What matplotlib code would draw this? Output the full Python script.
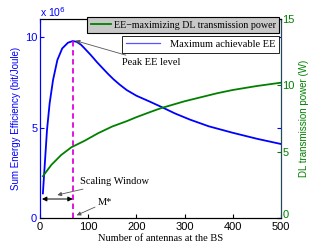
# EE vs number of BS antennas (plotyy-style)
import numpy as np
import matplotlib.pyplot as plt

# data
m_ee = [6, 10, 14.5, 20, 27, 36, 46, 58, 68, 76, 85, 93, 105, 118, 131, 141, 152, 165,
        180, 200, 228, 251, 280, 311, 350, 400, 450, 500]
ee = [1.36, 3.0, 4.86, 6.34, 7.62, 8.73, 9.37, 9.69, 9.78, 9.74, 9.58, 9.36, 9.02, 8.62,
      8.25, 7.97, 7.68, 7.38, 7.07, 6.76, 6.43, 6.15, 5.78, 5.44, 5.07, 4.71, 4.38, 4.09]

m_p = [6, 23.5, 44, 65, 93, 120, 150, 180, 200, 228, 251, 300, 367, 400, 450, 500]
power = [3.15, 4.0, 4.75, 5.33, 5.83, 6.38, 6.9, 7.3, 7.6, 7.98, 8.28, 8.8, 9.4, 9.65, 9.95, 10.2]

m_star = 68
peak_ee = 9.78

serif = 'Liberation Serif'
sans = 'Liberation Sans'
blue = '#0000ff'
green = '#008000'

fig = plt.figure(figsize=(3.11, 2.46), dpi=100)
ax = fig.add_axes([40/311, 1-218/246, 241/311, 199/246])
ax2 = ax.twinx()

ax.plot(m_ee, ee, color=blue, lw=1.3, label='Maximum achievable EE')
ax2.plot(m_p, power, color=green, lw=1.3, label='EE\u2212maximizing DL transmission power')
ax.plot([m_star, m_star], [0, peak_ee], color='#e000e0', lw=1.3, ls=(0, (3, 2)))

ax.set_xlim(0, 500)
ax.set_ylim(0, 11)
ax2.set_ylim(0, 15)
ax.set_xticks([0, 100, 200, 300, 400, 500])
ax.set_yticks([0, 5, 10])
ax2.set_yticks([0, 5, 10, 15])

ax.tick_params(axis='x', direction='in', labelsize=8, length=3, pad=3, top=True)
ax.tick_params(axis='y', direction='in', colors=blue, labelsize=8, length=3, pad=2, right=True)
ax2.tick_params(axis='y', direction='in', colors=green, labelsize=8, length=3, pad=1)
for lab in ax.get_xticklabels() + ax.get_yticklabels() + ax2.get_yticklabels():
    lab.set_fontfamily(sans)
# lift the right-hand "0" so it clears the "500"
ax2.yaxis.get_major_ticks()[0].label2.set_va('baseline')

ax.spines['left'].set_color(blue)
ax2.spines['left'].set_color(blue)
ax2.spines['right'].set_color('#1f4a60')
for a in (ax, ax2):
    for s in a.spines.values():
        s.set_linewidth(0.8)

ax.set_xlabel('Number of antennas at the BS', fontfamily=serif, fontsize=7.5, labelpad=1)
ax.set_ylabel('Sum Energy Efficiency (bit/Joule)', fontfamily=sans, fontsize=7, color=blue, labelpad=3)
ax2.set_ylabel('DL transmission power (W)', fontfamily=sans, fontsize=7, color=green, labelpad=3)
fig.text(40/311, 1-12/246, r'x 10$^6$', color=blue, fontfamily=sans, fontsize=7.5, va='center')

# annotations
arr = dict(arrowstyle='-|>', color='#555555', lw=0.6, mutation_scale=6, shrinkA=0, shrinkB=0)
ax.annotate('Peak EE level', xy=(74, 9.8), xytext=(170, 8.6),
            fontfamily=serif, fontsize=7.5, va='center', arrowprops=arr)
ax.annotate('Scaling Window', xy=(36, 1.27), xytext=(83, 2.0),
            fontfamily=serif, fontsize=7.5, va='center', arrowprops=arr)
ax.annotate('M*', xy=(76, 0.15), xytext=(120, 0.85),
            fontfamily=serif, fontsize=7.5, va='center', arrowprops=arr)
ax.annotate('', xy=(4, 1.05), xytext=(m_star, 1.05),
            arrowprops=dict(arrowstyle='<|-|>', color='black', lw=0.7, mutation_scale=7,
                            shrinkA=0, shrinkB=0))

# two separate legends like plotyy
lg2 = ax2.legend(loc='upper right', bbox_to_anchor=(279/311, 1-17/246), bbox_transform=fig.transFigure,
                 prop={'family': serif, 'size': 7.2}, frameon=True, fancybox=False,
                 facecolor='#c8c8c8', edgecolor='black', framealpha=1, handlelength=2.0,
                 borderpad=0.35, handletextpad=0.3, borderaxespad=0)
lg2.get_frame().set_linewidth(0.8)
lg1 = ax2.legend(handles=ax.get_lines()[:1], loc='upper right', bbox_to_anchor=(279/311, 1-36/246),
                 bbox_transform=fig.transFigure,
                 prop={'family': serif, 'size': 7.5}, frameon=True, fancybox=False,
                 facecolor='white', edgecolor='black', framealpha=1, handlelength=3.3,
                 borderpad=0.35, handletextpad=0.9, borderaxespad=0)
lg1.get_frame().set_linewidth(0.6)
for ln in lg1.get_lines():
    ln.set_linewidth(0.9)
    ln.set_color('#5555ff')
ax2.add_artist(lg2)

fig.savefig('out.png', dpi=100)
